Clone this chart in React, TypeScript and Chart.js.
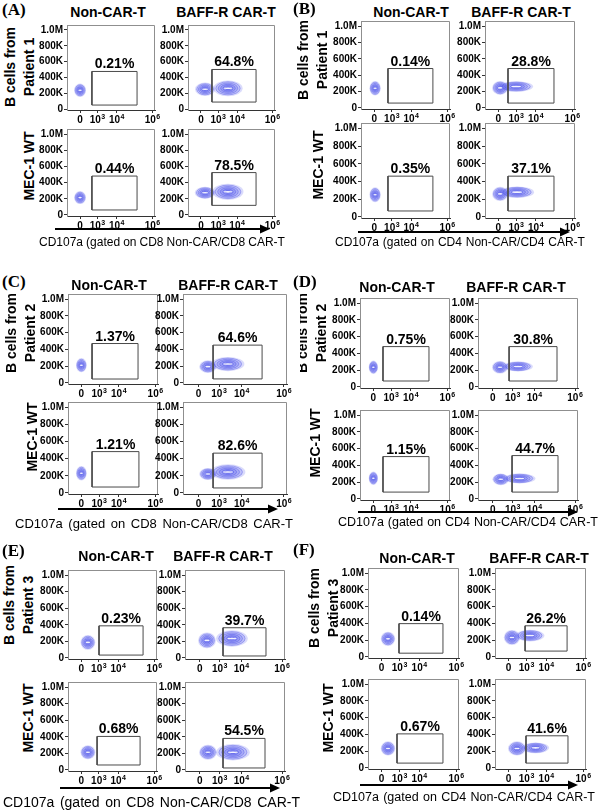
import React, { useEffect, useRef } from 'react';
import { Chart, registerables } from 'chart.js';

Chart.register(...registerables);

// ---------------- DATA ----------------
const PANEL_LETTERS = ['(A)', '(B)', '(C)', '(D)', '(E)', '(F)'];
const PATIENTS = ['Patient 1', 'Patient 1', 'Patient 2', 'Patient 2', 'Patient 3', 'Patient 3'];
const ROW_LABEL_TOP = 'B cells from';
const ROW_LABEL_BOTTOM = 'MEC-1 WT';
const COLUMN_TITLES = ['Non-CAR-T', 'BAFF-R CAR-T'];
const GATED_SUBSETS = ['CD8', 'CD4', 'CD8', 'CD4', 'CD8', 'CD4'];

// x axis: display units of the biexponential CD107a axis
const X_TICK_VALUES = [0, 1, 2.1, 4.15];
const X_TICK_LABELS = ['0', '10^3', '10^4', '10^6'];
// y axis in thousands
const Y_TICK_VALUES = [0, 200, 400, 600, 800, 1000];
const Y_TICK_LABELS = ['0', '200K', '400K', '600K', '800K', '1.0M'];

// order in each panel: top-left, top-right, bottom-left, bottom-right
const PCT_A = ['0.21%', '64.8%', '0.44%', '78.5%'];
const PCT_B = ['0.14%', '28.8%', '0.35%', '37.1%'];
const PCT_C = ['1.37%', '64.6%', '1.21%', '82.6%'];
const PCT_D = ['0.75%', '30.8%', '1.15%', '44.7%'];
const PCT_E = ['0.23%', '39.7%', '0.68%', '54.5%'];
const PCT_F = ['0.14%', '26.2%', '0.67%', '41.6%'];

// gates: [x from, x to, y from (K), y to (K)]
const GATES_A = [[0.68, 3.27, 50, 475], [0.64, 3.2, 88, 500], [0.68, 3.27, 62, 481], [0.64, 3.2, 119, 524]];
const GATES_B = [[0.78, 3.33, 60, 482], [0.54, 3.12, 60, 482], [0.78, 3.33, 67, 461], [0.54, 3.12, 67, 461]];
const GATES_C = [[0.6, 3.18, 47, 471], [0.71, 3.09, 48, 452], [0.6, 3.23, 69, 483], [0.71, 3.09, 58, 465]];
const GATES_D = [[0.54, 3.12, 71, 482], [0.82, 3.24, 71, 482], [0.54, 3.12, 82, 506], [0.97, 3.29, 82, 518]];
const GATES_E = [[1.01, 3.51, 35, 388], [1.17, 3.34, 24, 365], [0.9, 3.34, 60, 405], [1.17, 3.29, 24, 381]];
const GATES_F = [[0.97, 3.41, 45, 398], [0.92, 3.25, 70, 372], [0.86, 3.41, 58, 407], [0.97, 3.3, 58, 384]];

// cell populations (contour lobes): [centre x, centre y (K), spread x, spread y (K)]
const POPS_A = [
  [[0.0, 237, 0.34, 85]],
  [[0.24, 250, 0.58, 85], [1.57, 262, 0.85, 100]],
  [[0.0, 215, 0.34, 80]],
  [[0.24, 274, 0.6, 75], [1.57, 286, 0.9, 100]],
];
const POPS_B = [
  [[0.05, 241, 0.32, 90]],
  [[0.1, 245, 0.45, 85], [1.0, 262, 0.95, 65]],
  [[0.05, 250, 0.32, 85]],
  [[0.1, 260, 0.45, 80], [1.05, 280, 0.95, 65]],
];
const POPS_C = [
  [[0.0, 212, 0.3, 85]],
  [[0.46, 195, 0.42, 75], [1.43, 226, 0.8, 85]],
  [[0.0, 230, 0.3, 85]],
  [[0.46, 221, 0.42, 70], [1.43, 244, 0.85, 90]],
];
const POPS_D = [
  [[0.0, 235, 0.26, 80]],
  [[0.36, 235, 0.4, 75], [1.27, 245, 0.75, 60]],
  [[0.0, 247, 0.26, 80]],
  [[0.4, 235, 0.42, 70], [1.35, 245, 0.8, 60]],
];
const POPS_E = [
  [[0.38, 188, 0.42, 90]],
  [[0.36, 212, 0.45, 95], [1.62, 235, 0.8, 100]],
  [[0.38, 214, 0.42, 85]],
  [[0.41, 214, 0.45, 90], [1.67, 214, 0.85, 100]],
];
const POPS_F = [
  [[0.36, 216, 0.4, 85]],
  [[0.19, 233, 0.45, 90], [1.19, 256, 0.8, 70]],
  [[0.36, 233, 0.4, 85]],
  [[0.47, 233, 0.5, 85], [1.5, 240, 0.75, 65]],
];

const PCTS = [PCT_A, PCT_B, PCT_C, PCT_D, PCT_E, PCT_F];
const GATES = [GATES_A, GATES_B, GATES_C, GATES_D, GATES_E, GATES_F];
const POPS = [POPS_A, POPS_B, POPS_C, POPS_D, POPS_E, POPS_F];

// ---------------- LAYOUT (positions / styles) ----------------
const X_MIN = -0.75;
const X_MAX = 4.3;
const Y_MIN = -12.5;
const Y_MAX = 1062.5;
const AX_W = 40;
const AX_H = 18;
const PAD_T = 6;
const PAD_R = 14;
const LEVELS = 6;
const SANS = "'Liberation Sans', Arial, Helvetica, sans-serif";
const SERIF = "'Liberation Serif', 'Times New Roman', serif";

type PanelLayout = {
  letter: [number, number];
  titles: [number, number, number];
  ylab1: [number, number];
  ylab2: [number, number];
  arrow: [number, number, number];
  caption: [number, number, number, number];
  cols: [number, number][];
  rows: [number, number][];
  clipLabel?: number;
};

const LAYOUT: PanelLayout[] = [
  { letter: [2, 10], titles: [108, 226, 12], ylab1: [20, 67], ylab2: [29, 166], arrow: [55, 270, 229], caption: [39, 246, 242, 12], cols: [[67, 88], [188, 87]], rows: [[29, 109], [133, 215]] },
  { letter: [293, 9], titles: [411, 521, 12], ylab1: [313, 60], ylab2: [318, 165], arrow: [358, 570, 232], caption: [335, 250, 242, 12], cols: [[361, 89], [485, 90]], rows: [[25, 108], [128, 217]] },
  { letter: [2, 282], titles: [109, 228, 285], ylab1: [21, 333], ylab2: [32, 437], arrow: [58, 278, 509], caption: [15, 278, 523, 13], cols: [[68, 90], [183, 104]], rows: [[298, 383], [406, 493]] },
  { letter: [293, 282], titles: [397, 516, 287], ylab1: [312, 333], ylab2: [315, 443], arrow: [358, 578, 512], caption: [338, 260, 522, 12.5], cols: [[360, 90], [478, 100]], rows: [[302, 387], [414, 499]], clipLabel: 300 },
  { letter: [2, 551], titles: [116, 223, 556], ylab1: [19, 605], ylab2: [28, 718], arrow: [60, 280, 788], caption: [3, 297, 802, 14], cols: [[68, 89], [185, 100]], rows: [[574, 658], [686, 770]] },
  { letter: [293, 550], titles: [417, 539, 558], ylab1: [324, 608], ylab2: [328, 718], arrow: [360, 578, 785], caption: [333, 262, 797, 12.5], cols: [[368, 91], [495, 91]], rows: [[572, 657], [683, 768]] },
];

function frameFrom(col: [number, number], row: [number, number]) {
  const [L, W] = col;
  const [y1M, y0] = row;
  const ppk = (y0 - y1M) / 1000;
  const top = Math.round(y0 - Y_MAX * ppk);
  const bottom = Math.round(y0 - Y_MIN * ppk);
  return { left: L, top, width: W, height: bottom - top };
}

type Frame = { left: number; top: number; width: number; height: number };

function FlowPlot({ frame, gate, pops, pct }: { frame: Frame; gate: number[]; pops: number[][]; pct: string }) {
  const ref = useRef<HTMLCanvasElement>(null);
  const cw = AX_W + frame.width + PAD_R;
  const ch = PAD_T + frame.height + AX_H;

  useEffect(() => {
    const canvas = ref.current;
    if (!canvas) return;
    const [gx0, gx1, gy0, gy1] = gate;

    const frameLines = {
      id: 'frameLines',
      beforeDatasetsDraw(c: any) {
        const { ctx, chartArea: a } = c;
        ctx.save();
        ctx.strokeStyle = '#8f8f8f';
        ctx.lineWidth = 1;
        ctx.beginPath();
        ctx.moveTo(a.left, a.top + 0.5);
        ctx.lineTo(a.right - 0.5, a.top + 0.5);
        ctx.lineTo(a.right - 0.5, a.bottom);
        ctx.stroke();
        ctx.restore();
      },
    };

    const contours = {
      id: 'contours',
      beforeDatasetsDraw(c: any) {
        const { ctx, chartArea: a } = c;
        const xs = c.scales.x;
        const ys = c.scales.y;
        ctx.save();
        ctx.beginPath();
        ctx.rect(a.left, a.top, a.right - a.left, a.bottom - a.top);
        ctx.clip();
        const shapes = pops.map(([cx, cy, rx, ry]) => {
          const px = xs.getPixelForValue(cx);
          const py = ys.getPixelForValue(cy);
          return {
            px,
            py,
            rx: Math.abs(xs.getPixelForValue(cx + rx) - px),
            ry: Math.abs(ys.getPixelForValue(cy + ry) - py),
          };
        });
        for (let k = 0; k < LEVELS; k++) {
          const s = 1 - k / LEVELS;
          shapes.forEach((sh) => {
            ctx.beginPath();
            ctx.ellipse(sh.px, sh.py, sh.rx * s, sh.ry * s, 0, 0, Math.PI * 2);
            ctx.fillStyle = 'rgba(100,106,240,0.24)';
            ctx.fill();
          });
        }
        for (let k = 1; k < LEVELS; k++) {
          const s = 1 - k / LEVELS;
          shapes.forEach((sh) => {
            ctx.beginPath();
            ctx.ellipse(sh.px, sh.py, sh.rx * s, sh.ry * s, 0, 0, Math.PI * 2);
            ctx.lineWidth = 0.7;
            ctx.strokeStyle = 'rgba(62,68,230,0.5)';
            ctx.stroke();
          });
        }
        shapes.forEach((sh) => {
          ctx.beginPath();
          ctx.ellipse(sh.px, sh.py, Math.max(1.2, sh.rx * 0.3), Math.max(0.8, sh.ry * 0.1), 0, 0, Math.PI * 2);
          ctx.fillStyle = 'rgba(255,255,255,0.9)';
          ctx.fill();
        });
        ctx.restore();
      },
    };

    const labels = {
      id: 'labels',
      afterDraw(c: any) {
        const { ctx, chartArea: a } = c;
        const xs = c.scales.x;
        const ys = c.scales.y;
        ctx.save();
        ctx.fillStyle = '#000';
        ctx.textBaseline = 'alphabetic';
        X_TICK_VALUES.forEach((v, i) => {
          const [base, exp] = X_TICK_LABELS[i].split('^');
          const px = xs.getPixelForValue(v);
          const by = a.bottom + 13;
          ctx.font = `bold 10px ${SANS}`;
          const bw = ctx.measureText(base).width;
          let ew = 0;
          if (exp) {
            ctx.font = `bold 7px ${SANS}`;
            ew = ctx.measureText(exp).width + 0.5;
          }
          const x0 = px - (bw + ew) / 2;
          ctx.font = `bold 10px ${SANS}`;
          ctx.textAlign = 'left';
          ctx.fillText(base, x0, by);
          if (exp) {
            ctx.font = `bold 7px ${SANS}`;
            ctx.fillText(exp, x0 + bw + 0.5, by - 4);
          }
        });
        const gx = (xs.getPixelForValue(gx0) + xs.getPixelForValue(gx1)) / 2;
        const gy = ys.getPixelForValue(gy1) - 3;
        ctx.font = `bold 14px ${SANS}`;
        ctx.textAlign = 'center';
        ctx.fillText(pct, gx, gy);
        ctx.restore();
      },
    };

    const tickFont = { family: SANS, size: 10, weight: 'bold' as const };

    const chart = new Chart(canvas, {
      type: 'scatter',
      data: {
        datasets: [
          {
            data: [
              { x: gx0, y: gy0 },
              { x: gx1, y: gy0 },
              { x: gx1, y: gy1 },
              { x: gx0, y: gy1 },
              { x: gx0, y: gy0 },
            ],
            showLine: true,
            borderColor: '#4a4a4a',
            borderWidth: 1,
            pointRadius: 0,
            fill: false,
            tension: 0,
          },
        ],
      },
      options: {
        animation: false,
        responsive: false,
        devicePixelRatio: 1,
        events: [],
        layout: { padding: { left: 0, top: PAD_T, right: PAD_R, bottom: 0 }, autoPadding: false },
        plugins: { legend: { display: false }, tooltip: { enabled: false }, title: { display: false } },
        scales: {
          x: {
            type: 'linear',
            min: X_MIN,
            max: X_MAX,
            afterBuildTicks: (s: any) => {
              s.ticks = X_TICK_VALUES.map((v) => ({ value: v }));
            },
            afterFit: (s: any) => {
              s.height = AX_H;
            },
            ticks: {
              callback: () => '',
              font: tickFont,
              color: '#000',
              padding: 1,
              maxRotation: 0,
              autoSkip: false,
            },
            grid: { drawOnChartArea: false, drawTicks: true, tickLength: 3, color: '#333', lineWidth: 1 },
            border: { display: true, color: '#333', width: 1, dash: [1, 1.5] },
          },
          y: {
            type: 'linear',
            min: Y_MIN,
            max: Y_MAX,
            afterBuildTicks: (s: any) => {
              s.ticks = Y_TICK_VALUES.map((v) => ({ value: v }));
            },
            afterFit: (s: any) => {
              s.width = AX_W;
            },
            ticks: {
              callback: (_v: any, i: number) => Y_TICK_LABELS[i],
              font: tickFont,
              color: '#000',
              padding: 1,
              autoSkip: false,
            },
            grid: { drawOnChartArea: false, drawTicks: true, tickLength: 3, color: '#333', lineWidth: 1 },
            border: { display: true, color: '#8f8f8f', width: 1 },
          },
        },
      } as any,
      plugins: [frameLines, contours, labels],
    });
    return () => chart.destroy();
  }, []);

  return (
    <canvas
      ref={ref}
      width={cw}
      height={ch}
      style={{ position: 'absolute', left: frame.left - AX_W, top: frame.top - PAD_T, width: cw, height: ch }}
    />
  );
}

function Arrow({ x1, x2, y }: { x1: number; x2: number; y: number }) {
  const w = x2 - x1;
  return (
    <svg style={{ position: 'absolute', left: x1, top: y - 6 }} width={w} height={12}>
      <line x1={0} y1={6} x2={w - 6} y2={6} stroke="#000" strokeWidth={2} />
      <polygon points={`${w},6 ${w - 10},1.5 ${w - 10},10.5`} fill="#000" />
    </svg>
  );
}

function Panel({ idx }: { idx: number }) {
  const L = LAYOUT[idx];
  const subset = GATED_SUBSETS[idx];
  const captionWords = ['CD107a', '(gated', 'on', subset, `Non-CAR/${subset}`, 'CAR-T'];
  const titleStyle: React.CSSProperties = {
    position: 'absolute',
    transform: 'translate(-50%,-50%)',
    whiteSpace: 'nowrap',
    font: `bold 14px ${SANS}`,
    color: '#000',
  };
  const rotStyle: React.CSSProperties = {
    position: 'absolute',
    transform: 'translate(-50%,-50%) rotate(-90deg)',
    whiteSpace: 'nowrap',
    font: `bold 14px ${SANS}`,
    lineHeight: '19px',
    textAlign: 'center',
    color: '#000',
  };
  const topLabel = (
    <div style={{ ...rotStyle, left: L.ylab1[0] - (L.clipLabel ?? 0), top: L.ylab1[1] }}>
      {ROW_LABEL_TOP}
      <br />
      {PATIENTS[idx]}
    </div>
  );
  const plots = [];
  for (let r = 0; r < 2; r++) {
    for (let c = 0; c < 2; c++) {
      const k = r * 2 + c;
      plots.push(
        <FlowPlot
          key={k}
          frame={frameFrom(L.cols[c], L.rows[r])}
          gate={GATES[idx][k]}
          pops={POPS[idx][k]}
          pct={PCTS[idx][k]}
        />
      );
    }
  }
  return (
    <>
      <div
        style={{
          position: 'absolute',
          left: L.letter[0],
          top: L.letter[1],
          transform: 'translateY(-50%)',
          font: `bold 17px ${SERIF}`,
          color: '#000',
          whiteSpace: 'nowrap',
        }}
      >
        {PANEL_LETTERS[idx]}
      </div>
      <div style={{ ...titleStyle, left: L.titles[0], top: L.titles[2] }}>{COLUMN_TITLES[0]}</div>
      <div style={{ ...titleStyle, left: L.titles[1], top: L.titles[2] }}>{COLUMN_TITLES[1]}</div>
      {L.clipLabel ? (
        <div style={{ position: 'absolute', left: L.clipLabel, top: 0, width: 40, height: 810, overflow: 'hidden' }}>
          {topLabel}
        </div>
      ) : (
        topLabel
      )}
      <div style={{ ...rotStyle, left: L.ylab2[0], top: L.ylab2[1] }}>{ROW_LABEL_BOTTOM}</div>
      {plots}
      <Arrow x1={L.arrow[0]} x2={L.arrow[1]} y={L.arrow[2]} />
      <div
        style={{
          position: 'absolute',
          left: L.caption[0],
          top: L.caption[2],
          width: L.caption[1],
          transform: 'translateY(-50%)',
          display: 'flex',
          justifyContent: 'space-between',
          font: `${L.caption[3]}px ${SANS}`,
          color: '#000',
          whiteSpace: 'nowrap',
        }}
      >
        {captionWords.map((w, i) => (
          <span key={i}>{w}</span>
        ))}
      </div>
    </>
  );
}

export default function App() {
  return (
    <div
      style={{
        position: 'absolute',
        left: 0,
        top: 0,
        width: 600,
        height: 810,
        background: '#fff',
        overflow: 'hidden',
        fontFamily: SANS,
      }}
    >
      {PANEL_LETTERS.map((_, i) => (
        <Panel key={i} idx={i} />
      ))}
    </div>
  );
}
